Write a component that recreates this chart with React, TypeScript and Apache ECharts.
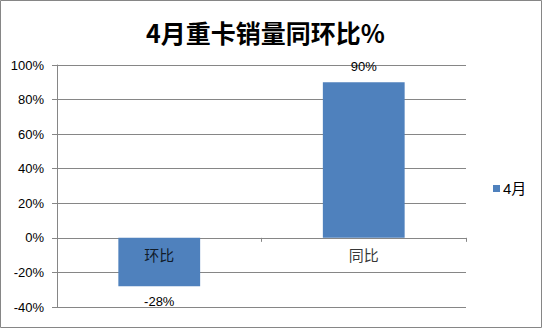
import React, { useEffect, useRef } from "react";
import * as echarts from "echarts";

const categories = ["环比", "同比"];
const values = [-28, 90];
const seriesName = "4月";
const titleText = "4月重卡销量同环比%";

const FONT = '"Liberation Sans", Arial, "Noto Sans CJK SC", sans-serif';
const BAR = "#4F81BD";
const GRID = "#868686";

export default function App() {
  const ref = useRef<HTMLDivElement>(null);

  useEffect(() => {
    const chart = echarts.init(ref.current!, null, { renderer: "svg" });
    chart.setOption({
      animation: false,
      backgroundColor: "#ffffff",
      title: {
        text: titleText,
        left: 141,
        top: 14,
        textStyle: {
          fontFamily: '"Noto Sans CJK SC", sans-serif',
          fontWeight: "bold",
          fontSize: 25,
          color: "#000",
        },
      },
      legend: {
        data: [seriesName],
        left: 488,
        top: 176,
        orient: "vertical",
        itemWidth: 7,
        itemHeight: 7,
        itemGap: 4,
        icon: "rect",
        textStyle: { fontFamily: FONT, fontSize: 15, color: "#000", padding: [0, 0, 0, -2] },
      },
      grid: {
        left: 57,
        right: 76,
        top: 65,
        bottom: 21,
        containLabel: false,
        outerBoundsMode: "none",
      },
      xAxis: {
        type: "category",
        data: categories,
        axisLine: { onZero: true, lineStyle: { color: GRID, width: 1 } },
        axisTick: { show: true, length: 4, alignWithLabel: false, lineStyle: { color: GRID } },
        axisLabel: { show: false },
        splitLine: { show: false },
      },
      yAxis: {
        type: "value",
        min: -40,
        max: 100,
        interval: 20,
        axisLine: { show: true, lineStyle: { color: GRID, width: 1 } },
        axisTick: { show: true, length: 5, lineStyle: { color: GRID } },
        axisLabel: {
          fontFamily: FONT,
          fontSize: 13,
          color: "#000",
          margin: 13,
          formatter: (v: number) => `${v}%`,
        },
        splitLine: { show: true, lineStyle: { color: GRID, width: 1 } },
      },
      series: [
        {
          name: seriesName,
          type: "bar",
          barWidth: "40%",
          itemStyle: { color: BAR },
          z: 2,
          data: values.map((v) => ({
            value: v,
            label: { position: v < 0 ? "bottom" : "top" },
          })),
          label: {
            show: true,
            distance: 9,
            fontFamily: FONT,
            fontSize: 13,
            color: "#000",
            formatter: (p: any) => `${p.value}%`,
          },
        },
        {
          // category names sit just below the zero line
          name: "categoryLabels",
          type: "scatter",
          symbolSize: 0,
          silent: true,
          z: 5,
          data: categories.map((c) => [c, 0]),
          label: {
            show: true,
            position: "bottom",
            distance: 10,
            fontFamily: FONT,
            fontSize: 15,
            color: "#000",
            formatter: (p: any) => p.name || p.value[0],
          },
        },
      ],
      graphic: [
        {
          type: "rect",
          shape: { x: 0.5, y: 0.5, width: 541, height: 327 },
          style: { fill: "none", stroke: GRID, lineWidth: 1 },
          silent: true,
        },
      ],
    });
    return () => chart.dispose();
  }, []);

  return (
    <div
      ref={ref}
      style={{ position: "fixed", left: 0, top: 0, width: 542, height: 328 }}
    />
  );
}
